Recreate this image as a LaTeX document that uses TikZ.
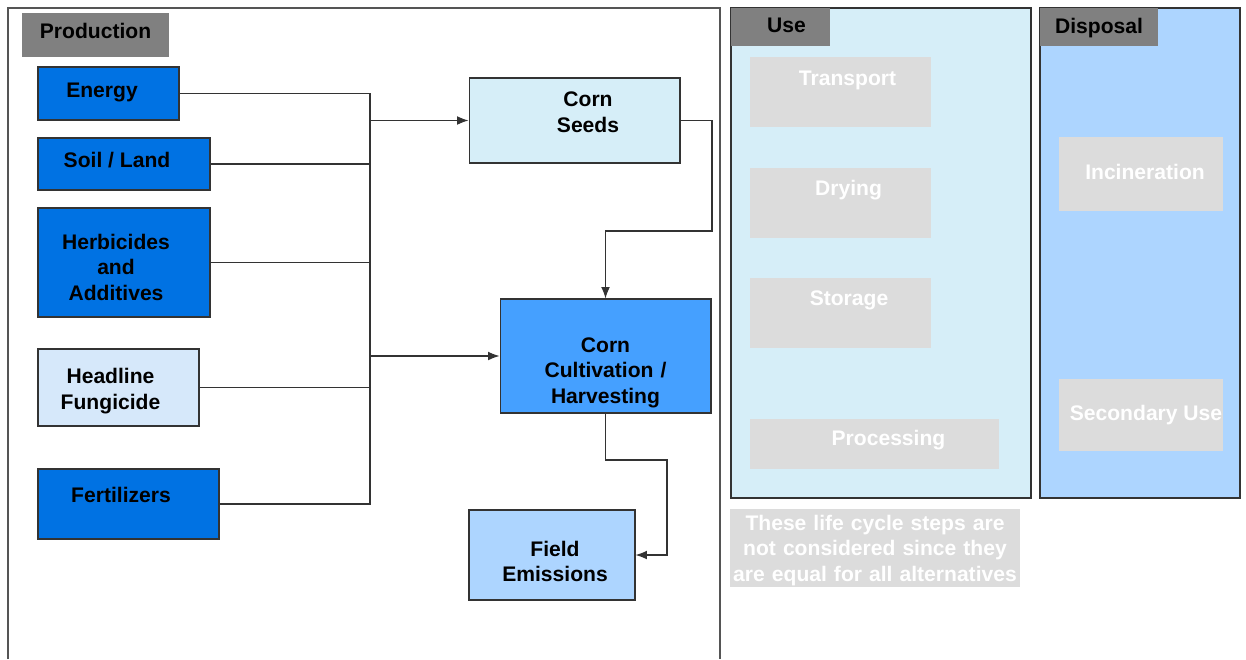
\documentclass[tikz,border=0pt]{standalone}
\usepackage{fontspec}
\setmainfont{Liberation Sans}
\usepackage{xcolor}
\usetikzlibrary{arrows.meta}

\definecolor{tabgray}{HTML}{808080}
\definecolor{inputblue}{HTML}{0072E3}
\definecolor{paleblue}{HTML}{D6E8FA}
\definecolor{seedcyan}{HTML}{D6EEF8}
\definecolor{cultblue}{HTML}{45A0FF}
\definecolor{skyblue}{HTML}{ADD5FF}
\definecolor{ghost}{HTML}{DCDCDC}
\definecolor{edgegray}{HTML}{333333}
\definecolor{framegray}{HTML}{555555}

% shifts a text sideways without changing its width
\newcommand{\xnudge}[2]{\leavevmode\hbox{\kern#1\relax#2\kern-#1\relax}}

\begin{document}
\begin{tikzpicture}[x=0.02cm,y=-0.02cm,
    >={Latex[length=6.5pt,width=5pt]},
    every node/.style={font=\bfseries\fontsize{12}{14.6}\selectfont, inner sep=0pt},
    lift/.style={text height=8.6pt, text depth=#1},
    tab/.style={fill=tabgray, text=black},
    inbox/.style={draw=edgegray, line width=0.6pt, fill=inputblue},
    stagebox/.style={draw=edgegray, line width=0.6pt},
    panel/.style={draw=edgegray, line width=0.9pt},
    ghostbox/.style={fill=ghost, text=white},
    wire/.style={edgegray, line width=0.6pt}]
\useasboundingbox (0,0) rectangle (1246,659);

% production frame
\draw[framegray, line width=0.8pt] (8,659) -- (8,8) -- (720,8) -- (720,659);
\node[tab, minimum width=2.94cm, minimum height=0.88cm, lift=4.6pt] (prodtab) at (95.5,35) {Production};

% inputs
\node[inbox, minimum width=2.82cm, minimum height=1.06cm, lift=4pt] (energy) at (108.5,93.5) {\xnudge{-0.13cm}{Energy}};
\node[inbox, minimum width=3.44cm, minimum height=1.04cm, lift=4.6pt] (soil) at (124,164) {\xnudge{-0.14cm}{Soil / Land}};
\node[inbox, minimum height=2.18cm, text width=3.44cm, align=center, text height=8.6pt, text depth=23.9pt] (herb) at (124,262.5)
  {\xnudge{-0.16cm}{Herbicides}\\\xnudge{-0.16cm}{and}\\\xnudge{-0.16cm}{Additives}};
\node[stagebox, fill=paleblue, minimum height=1.54cm, text width=3.22cm, align=center, text height=8.6pt, text depth=12.8pt] (head) at (118.5,387.5)
  {\xnudge{-0.16cm}{Headline}\\\xnudge{-0.16cm}{Fungicide}};
\node[inbox, minimum width=3.62cm, minimum height=1.40cm, lift=10.2pt] (fert) at (128.5,504) {\xnudge{-0.15cm}{Fertilizers}};

% stages
\node[stagebox, fill=seedcyan, minimum height=1.70cm, text width=4.22cm, align=center, text height=8.6pt, text depth=24.7pt] (seeds) at (574.5,120.5)
  {\xnudge{0.27cm}{Corn}\\\xnudge{0.27cm}{Seeds}};
\node[stagebox, fill=cultblue, minimum height=2.28cm, text width=4.22cm, align=center, text height=8.6pt, text depth=13pt] (cult) at (605.5,356) {Corn\\Cultivation /\\Harvesting};
\node[stagebox, fill=skyblue, minimum height=1.80cm, text width=3.32cm, align=center, text height=8.6pt, text depth=7.1pt] (field) at (552,555)
  {\xnudge{0.06cm}{Field}\\\xnudge{0.06cm}{Emissions}};

% connectors
\coordinate (jtop) at (370,94);
\coordinate (jbot) at (370,504);
\coordinate (sbend) at (712,231);
\coordinate (fbend) at (667,460);
\draw[wire] (energy.east) -| (jbot) -- (fert.east);
\draw[wire] (soil.east) -- (soil.east -| jtop);
\draw[wire] (herb.east) -- (herb.east -| jtop);
\draw[wire] (head.east) -- (head.east -| jtop);
\draw[wire,->] (seeds.west -| jtop) -- (seeds.west);
\draw[wire,->] (cult.west -| jtop) -- (cult.west);
\draw[wire,->] (seeds.east) -| (sbend) -| (cult.north);
\draw[wire,->] (cult.south) |- (fbend) |- (field.east);

% use and disposal (not considered)
\node[panel, fill=seedcyan, minimum width=6cm, minimum height=9.8cm] (usepanel) at (881,253) {};
\node[tab, minimum width=1.98cm, minimum height=0.76cm, lift=2.3pt] (usetab) at (780.5,27) {\xnudge{0.12cm}{Use}};
\node[panel, fill=skyblue, minimum width=4cm, minimum height=9.8cm] (disppanel) at (1140,253) {};
\node[tab, minimum width=2.36cm, minimum height=0.76cm, lift=1pt] (disptab) at (1099,27) {Disposal};

\node[ghostbox, minimum width=3.62cm, minimum height=1.40cm, lift=16pt] (transport) at (840.5,92) {\xnudge{0.14cm}{Transport}};
\node[ghostbox, minimum width=3.62cm, minimum height=1.40cm, lift=17pt] (drying) at (840.5,203) {\xnudge{0.16cm}{Drying}};
\node[ghostbox, minimum width=3.62cm, minimum height=1.40cm, lift=17pt] (storage) at (840.5,313) {\xnudge{0.17cm}{Storage}};
\node[ghostbox, minimum width=4.98cm, minimum height=1.00cm, lift=6.8pt] (processing) at (874.5,444) {\xnudge{0.28cm}{Processing}};
\node[ghostbox, minimum width=3.28cm, minimum height=1.48cm, lift=2.8pt] (incin) at (1141,174) {\xnudge{0.08cm}{Incineration}};
\node[ghostbox, minimum width=3.28cm, minimum height=1.44cm, lift=2.8pt] (secuse) at (1141,415) {\xnudge{0.10cm}{Secondary Use}};

\node[ghostbox, minimum height=1.56cm, text width=5.8cm, align=center, text height=8.6pt, text depth=29pt] (note) at (875,548) {These life cycle steps are\\not considered since they\\are equal for all alternatives};
\end{tikzpicture}
\end{document}
